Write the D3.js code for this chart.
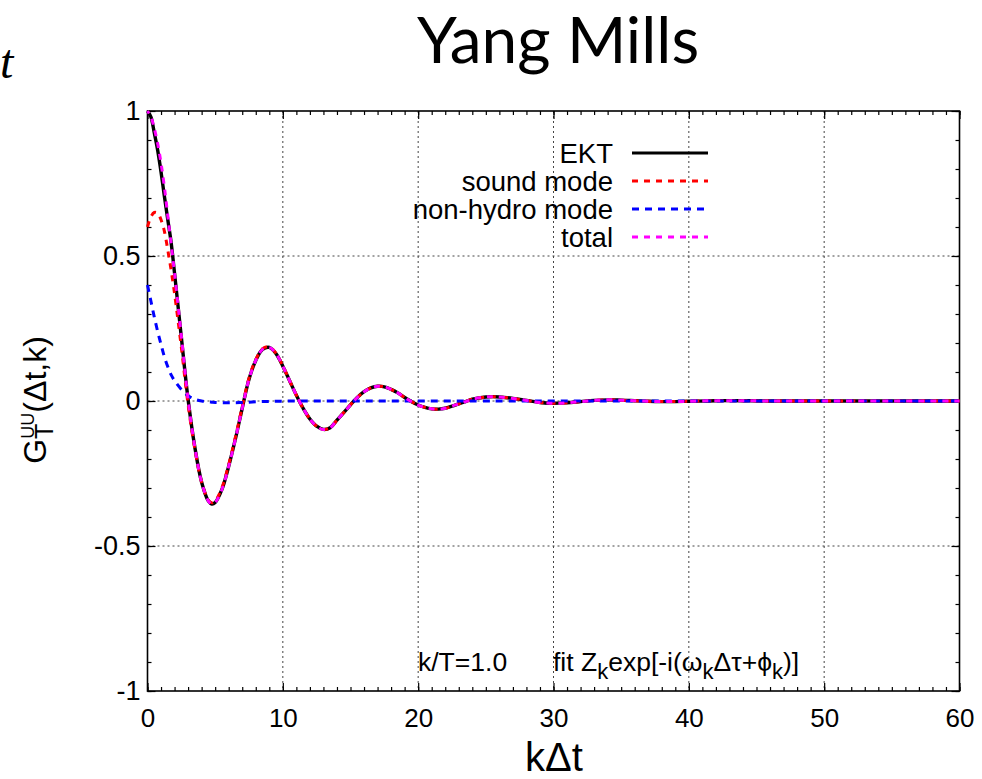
<!DOCTYPE html>
<html>
<head>
<meta charset="utf-8">
<script src="https://cdn.jsdelivr.net/npm/d3@7"></script>
<style>
  html, body { margin: 0; padding: 0; background: #fff; }
  svg { display: block; }
</style>
</head>
<body>
<svg id="chart" width="982" height="779"></svg>
<script>
// Sample times kΔt
const tValues = [0, 0.25, 0.5, 0.75, 1, 1.25, 1.5, 1.75, 2, 2.5, 3, 3.5, 4, 4.5, 4.75, 5, 5.5, 6, 6.5, 7, 7.5, 8, 8.5, 9, 9.5, 10, 10.5, 11, 11.5, 12, 12.5, 13, 13.5, 14, 14.5, 15, 15.5, 16, 16.5, 17, 17.5, 18, 18.5, 19, 19.5, 20, 20.5, 21, 21.5, 22, 22.5, 23, 23.5, 24, 25, 25.5, 26, 27, 28, 29, 30, 31, 32, 33, 34, 35, 36, 37, 38, 39, 40, 42, 44, 46, 50, 55, 60];

// EKT correlator
const ektValues = [1.0, 0.98, 0.925, 0.865, 0.79, 0.705, 0.625, 0.545, 0.44, 0.22, 0.005, -0.16, -0.28, -0.345, -0.355, -0.35, -0.305, -0.225, -0.13, -0.025, 0.075, 0.14, 0.178, 0.185, 0.163, 0.12, 0.07, 0.02, -0.025, -0.062, -0.087, -0.098, -0.092, -0.066, -0.04, -0.013, 0.012, 0.032, 0.045, 0.051, 0.049, 0.04, 0.028, 0.012, -0.002, -0.014, -0.022, -0.027, -0.028, -0.025, -0.018, -0.01, -0.002, 0.006, 0.014, 0.015, 0.014, 0.009, 0.002, -0.005, -0.008, -0.006, -0.002, 0.002, 0.004, 0.003, 0.001, -0.001, -0.002, -0.002, -0.001, 0.001, 0.001, 0, 0, 0, 0];

// Sound-mode fit
const soundValues = [0.60, 0.635, 0.65, 0.648, 0.625, 0.585, 0.52, 0.45, 0.37, 0.185, -0.013, -0.166, -0.28, -0.342, -0.351, -0.345, -0.299, -0.219, -0.124, -0.02, 0.079, 0.143, 0.18, 0.187, 0.164, 0.121, 0.07, 0.02, -0.025, -0.062, -0.087, -0.098, -0.092, -0.066, -0.04, -0.013, 0.012, 0.032, 0.045, 0.051, 0.049, 0.04, 0.028, 0.012, -0.002, -0.014, -0.022, -0.027, -0.028, -0.025, -0.018, -0.01, -0.002, 0.006, 0.014, 0.015, 0.014, 0.009, 0.002, -0.005, -0.008, -0.006, -0.002, 0.002, 0.004, 0.003, 0.001, -0.001, -0.002, -0.002, -0.001, 0.001, 0.001, 0, 0, 0, 0];

// Non-hydrodynamic mode fit
const nonHydroValues = [0.40, 0.345, 0.29, 0.24, 0.195, 0.152, 0.118, 0.09, 0.07, 0.04, 0.018, 0.006, 0.0, -0.003, -0.004, -0.005, -0.006, -0.006, -0.006, -0.005, -0.004, -0.003, -0.002, -0.002, -0.001, -0.001, 0, 0, 0, 0, 0, 0, 0, 0, 0, 0, 0, 0, 0, 0, 0, 0, 0, 0, 0, 0, 0, 0, 0, 0, 0, 0, 0, 0, 0, 0, 0, 0, 0, 0, 0, 0, 0, 0, 0, 0, 0, 0, 0, 0, 0, 0, 0, 0, 0, 0, 0];

// Total fit (sound + non-hydro)
const totalValues = [1.0, 0.98, 0.94, 0.888, 0.82, 0.737, 0.638, 0.54, 0.44, 0.225, 0.005, -0.16, -0.28, -0.345, -0.355, -0.35, -0.305, -0.225, -0.13, -0.025, 0.075, 0.14, 0.178, 0.185, 0.163, 0.12, 0.07, 0.02, -0.025, -0.062, -0.087, -0.098, -0.092, -0.066, -0.04, -0.013, 0.012, 0.032, 0.045, 0.051, 0.049, 0.04, 0.028, 0.012, -0.002, -0.014, -0.022, -0.027, -0.028, -0.025, -0.018, -0.01, -0.002, 0.006, 0.014, 0.015, 0.014, 0.009, 0.002, -0.005, -0.008, -0.006, -0.002, 0.002, 0.004, 0.003, 0.001, -0.001, -0.002, -0.002, -0.001, 0.001, 0.001, 0, 0, 0, 0];

const xTicks = [0, 10, 20, 30, 40, 50, 60];
const yTicks = [-1, -0.5, 0, 0.5, 1];
const legendLabels = ["EKT", "sound mode", "non-hydro mode", "total"];

(function draw() {
  const svg = d3.select("#chart");
  const pLeft = 147.5, pRight = 959.5, pTop = 111, pBottom = 691;
  const x = d3.scaleLinear().domain([0, 60]).range([pLeft, pRight]);
  const y = d3.scaleLinear().domain([-1, 1]).range([pBottom, pTop]);
  const FONT = "'Liberation Sans', Arial, sans-serif";

  // Title
  svg.append("text")
    .attr("x", 558).attr("y", 63)
    .attr("text-anchor", "middle")
    .attr("font-family", "Lato, 'Open Sans', sans-serif")
    .attr("font-size", 64)
    .attr("fill", "#000")
    .text("Yang Mills");

  // Math glyph at the left margin
  svg.append("text")
    .attr("x", 0).attr("y", 78)
    .attr("font-family", "'Liberation Serif', 'DejaVu Serif', serif")
    .attr("font-style", "italic")
    .attr("font-size", 48)
    .text("t");

  // Grid
  const grid = svg.append("g").attr("stroke", "#444").attr("stroke-width", 1).attr("stroke-dasharray", "2,3");
  grid.selectAll("line.gx").data(xTicks.filter(d => d > 0 && d < 60)).join("line")
    .attr("class", "gx")
    .attr("x1", d => x(d)).attr("x2", d => x(d)).attr("y1", pTop).attr("y2", pBottom);
  grid.selectAll("line.gy").data(yTicks.filter(d => d > -1 && d < 1)).join("line")
    .attr("class", "gy")
    .attr("x1", pLeft).attr("x2", pRight).attr("y1", d => y(d)).attr("y2", d => y(d));

  // Axes: major and minor ticks on all four sides, pointing inward
  const xMinor = d3.range(0, 61, 1);
  const yMinor = d3.range(-10, 11).map(d => d / 10);
  function styleAxis(g) {
    g.select(".domain").remove();
    g.selectAll(".tick line").attr("stroke", "#000").attr("stroke-width", 1.2);
  }
  svg.append("g").attr("transform", `translate(0,${pBottom})`)
    .call(d3.axisBottom(x).tickValues(xMinor).tickSize(-4).tickFormat(""))
    .call(styleAxis);
  svg.append("g").attr("transform", `translate(0,${pTop})`)
    .call(d3.axisTop(x).tickValues(xMinor).tickSize(-4).tickFormat(""))
    .call(styleAxis);
  svg.append("g").attr("transform", `translate(${pLeft},0)`)
    .call(d3.axisLeft(y).tickValues(yMinor).tickSize(-4).tickFormat(""))
    .call(styleAxis);
  svg.append("g").attr("transform", `translate(${pRight},0)`)
    .call(d3.axisRight(y).tickValues(yMinor).tickSize(-4).tickFormat(""))
    .call(styleAxis);

  const xAxis = svg.append("g").attr("transform", `translate(0,${pBottom})`)
    .call(d3.axisBottom(x).tickValues(xTicks).tickSize(-8).tickPadding(18).tickFormat(d3.format("d")))
    .call(styleAxis);
  xAxis.selectAll("text").attr("font-family", FONT).attr("font-size", 26).attr("fill", "#000");
  svg.append("g").attr("transform", `translate(0,${pTop})`)
    .call(d3.axisTop(x).tickValues(xTicks).tickSize(-8).tickFormat(""))
    .call(styleAxis);
  const yAxis = svg.append("g").attr("transform", `translate(${pLeft},0)`)
    .call(d3.axisLeft(y).tickValues(yTicks).tickSize(-8).tickPadding(7).tickFormat(d => String(d)))
    .call(styleAxis);
  yAxis.selectAll("text").attr("font-family", FONT).attr("font-size", 27).attr("fill", "#000");
  svg.append("g").attr("transform", `translate(${pRight},0)`)
    .call(d3.axisRight(y).tickValues(yTicks).tickSize(-8).tickFormat(""))
    .call(styleAxis);

  // Frame
  svg.append("rect")
    .attr("x", pLeft).attr("y", pTop).attr("width", pRight - pLeft).attr("height", pBottom - pTop)
    .attr("fill", "none").attr("stroke", "#000").attr("stroke-width", 1.6);

  // Curves
  const line = values => d3.line()
    .x((d, i) => x(tValues[i]))
    .y(d => y(d))
    .curve(d3.curveCatmullRom.alpha(0.5))(values);

  const plot = svg.append("g");
  const series = [
    { values: ektValues, color: "#000000", width: 3.4, dash: null, offset: 0 },
    { values: soundValues, color: "#ff0000", width: 3, dash: "6,6", offset: 0 },
    { values: nonHydroValues, color: "#0000ff", width: 3, dash: "7,6", offset: 0 },
    { values: totalValues, color: "#ff00ff", width: 3, dash: "6,6", offset: 3 }
  ];
  series.forEach(s => {
    plot.append("path")
      .attr("d", line(s.values))
      .attr("fill", "none")
      .attr("stroke", s.color)
      .attr("stroke-width", s.width)
      .attr("stroke-dasharray", s.dash)
      .attr("stroke-dashoffset", s.offset)
      .attr("stroke-linejoin", "round");
  });

  // Legend
  const legend = svg.append("g");
  legendLabels.forEach((label, i) => {
    const cy = 153 + i * 28;
    legend.append("text")
      .attr("x", 613).attr("y", cy + 9.5)
      .attr("text-anchor", "end")
      .attr("font-family", FONT).attr("font-size", 27.5)
      .text(label);
    const s = series[i];
    legend.append("line")
      .attr("x1", 632).attr("x2", 708).attr("y1", cy).attr("y2", cy)
      .attr("stroke", s.color).attr("stroke-width", 3)
      .attr("stroke-dasharray", s.dash);
  });

  // Annotation
  svg.append("text")
    .attr("x", 418).attr("y", 671)
    .attr("font-family", FONT).attr("font-size", 26.5)
    .text("k/T=1.0");
  const fit = svg.append("text")
    .attr("x", 553).attr("y", 671)
    .attr("font-family", FONT).attr("font-size", 26.5);
  fit.append("tspan").text("fit Z");
  fit.append("tspan").attr("dy", 8).attr("font-size", 22).text("k");
  fit.append("tspan").attr("dy", -8).text("exp[-i(ω");
  fit.append("tspan").attr("dy", 8).attr("font-size", 22).text("k");
  fit.append("tspan").attr("dy", -8).text("Δτ+ϕ");
  fit.append("tspan").attr("dy", 8).attr("font-size", 22).text("k");
  fit.append("tspan").attr("dy", -8).text(")]");

  // Axis titles
  svg.append("text")
    .attr("x", 554).attr("y", 771)
    .attr("text-anchor", "middle")
    .attr("font-family", FONT).attr("font-size", 40)
    .text("kΔt");

  const yl = svg.append("text")
    .attr("transform", "translate(46,400) rotate(-90)")
    .attr("text-anchor", "middle")
    .attr("font-family", FONT).attr("font-size", 32);
  yl.append("tspan").text("G");
  yl.append("tspan").attr("dy", 7).attr("font-size", 25).text("T");
  yl.append("tspan").attr("dx", -15).attr("dy", -19).attr("font-size", 18).text("UU");
  yl.append("tspan").attr("dy", 12).text("(Δt,k)");
})();
</script>
</body>
</html>
